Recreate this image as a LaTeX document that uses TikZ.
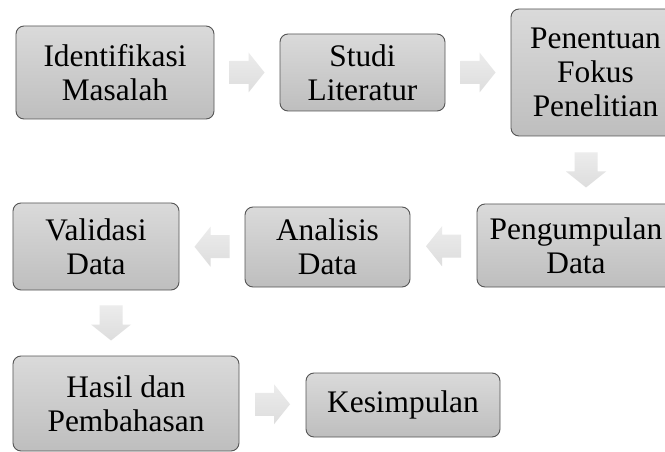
\documentclass[tikz,border=0pt]{standalone}
\usepackage{fontspec}
\setmainfont{Liberation Serif}
\usetikzlibrary{calc}
\definecolor{boxtop}{HTML}{DADADA}
\definecolor{boxbot}{HTML}{BEBEBE}
\definecolor{boxline}{HTML}{555555}
\definecolor{arrowtop}{HTML}{ECECEC}
\definecolor{arrowbot}{HTML}{DDDDDD}
\begin{document}
\begin{tikzpicture}[x=1bp,y=-1bp,
  stepbox/.style={draw=boxline, line width=0.9bp, rounded corners=8bp,
    top color=boxtop, bottom color=boxbot, align=center, inner sep=0pt,
    font=\fontsize{31.5}{34}\selectfont},
  flowarrow/.pic={\shade[top color=arrowtop, bottom color=arrowbot]
    (-17.5,-11.5) -- (1.5,-11.5) -- (1.5,-20) -- (17.5,0) -- (1.5,20)
    -- (1.5,11.5) -- (-17.5,11.5) -- cycle;}]
\useasboundingbox (0,0) rectangle (665,452);
\clip (0,0) rectangle (665,452);
\fill[white] (0,0) rectangle (665,452);

\node[stepbox, minimum width=198bp, minimum height=93bp] (b1) at (115,72.5) {Identifikasi\\Masalah};
\node[stepbox, minimum width=165bp, minimum height=77bp] (b2) at (362.5,72.5) {Studi\\Literatur};
\node[stepbox, minimum width=169bp, minimum height=127bp] (b3) at (595.5,72.5) {Penentuan\\Fokus\\Penelitian};
\node[stepbox, minimum width=198bp, minimum height=83bp] (b4) at (576,245.5) {Pengumpulan\\Data};
\node[stepbox, minimum width=165bp, minimum height=80bp] (b5) at (327.5,247) {Analisis\\Data};
\node[stepbox, minimum width=166bp, minimum height=87bp] (b6) at (96,246.5) {Validasi\\Data};
\node[stepbox, minimum width=226bp, minimum height=95bp] (b7) at (126,403.5) {Hasil dan\\Pembahasan};
\node[stepbox, minimum width=194bp, minimum height=64bp] (b8) at (403,405) {Kesimpulan};

\coordinate (d3) at (586,0);
\pic (a1) at ($(b1.east)!0.5!(b2.west)$) {flowarrow};
\pic (a2) at ($(b2.east)!0.5!(b3.west)$) {flowarrow};
\pic[rotate=-90] (a3) at ($(b3.south -| d3)!0.5!(b4.north -| d3)$) {flowarrow};
\pic[rotate=180] (a4) at ($(b4.west)!0.5!(b5.east)$) {flowarrow};
\pic[rotate=180] (a5) at ($(b5.west)!0.5!(b6.east)$) {flowarrow};
\pic[rotate=-90] (a6) at ($(b6.south)!0.5!(b7.north)$) {flowarrow};
\pic (a7) at ($(b7.east)!0.5!(b8.west)$) {flowarrow};
\end{tikzpicture}
\end{document}
